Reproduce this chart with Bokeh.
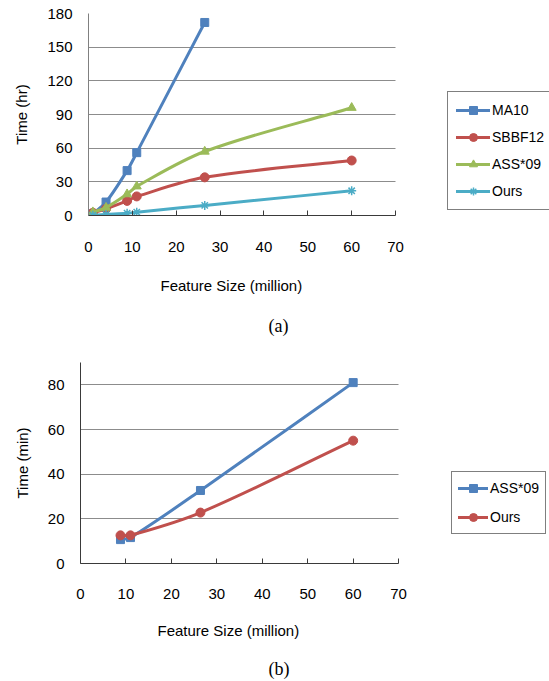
from bokeh.plotting import figure
from bokeh.models import Range1d, FixedTicker, Legend, LegendItem, Title
from bokeh.layouts import column, row
from bokeh.embed import file_html
from bokeh.resources import INLINE

# ---------------- data ----------------
x_ticks = [0, 10, 20, 30, 40, 50, 60, 70]
x_label = "Feature Size (million)"

# chart (a): Time (hr) vs feature size (million)
a_x = [1, 4, 8.8, 11, 26.5, 60]
a_ma10_x = [1, 4, 8.8, 11, 26.5]
a_ma10 = [1.5, 12, 40, 56, 172]
a_sbbf12 = [2.4, 6, 13, 17, 34, 49]
a_ass09 = [3, 7, 19, 26, 57, 96]
a_ours = [0.3, 1, 2, 3, 9, 22]
a_y_ticks = [0, 30, 60, 90, 120, 150, 180]

# chart (b): Time (min) vs feature size (million)
b_x = [8.8, 11, 26.4, 60]
b_ass09 = [10.7, 11.6, 32.7, 81]
b_ours = [12.6, 12.6, 22.8, 55]
b_y_ticks = [0, 20, 40, 60, 80]

BLUE = "#4F81BD"
RED = "#C0504D"
GREEN = "#9BBB59"
CYAN = "#4BACC6"
FONT = "Liberation Sans"


def smooth(xs, ys):
    """Cubic Hermite (Bezier) segments through the data points (Excel-like smoothing)."""
    n = len(xs)
    m = []
    for i in range(n):
        if i == 0:
            m.append((ys[1] - ys[0]) / (xs[1] - xs[0]))
        elif i == n - 1:
            m.append((ys[-1] - ys[-2]) / (xs[-1] - xs[-2]))
        else:
            m.append((ys[i + 1] - ys[i - 1]) / (xs[i + 1] - xs[i - 1]))
    d = dict(x0=[], y0=[], x1=[], y1=[], cx0=[], cy0=[], cx1=[], cy1=[])
    for i in range(n - 1):
        dx = xs[i + 1] - xs[i]
        d["x0"].append(xs[i]); d["y0"].append(ys[i])
        d["x1"].append(xs[i + 1]); d["y1"].append(ys[i + 1])
        d["cx0"].append(xs[i] + dx / 3); d["cy0"].append(ys[i] + m[i] * dx / 3)
        d["cx1"].append(xs[i + 1] - dx / 3); d["cy1"].append(ys[i + 1] - m[i + 1] * dx / 3)
    return d


def series(p, xs, ys, color, marker, size):
    seg = smooth(xs, ys)
    r1 = p.bezier(x0="x0", y0="y0", x1="x1", y1="y1", cx0="cx0", cy0="cy0",
                  cx1="cx1", cy1="cy1", source=seg, line_color=color,
                  line_width=3, line_cap="round")
    if marker == "asterisk":
        r2 = p.scatter(xs, ys, marker=marker, size=size, line_color=color,
                       line_width=1.5)
    else:
        r2 = p.scatter(xs, ys, marker=marker, size=size, fill_color=color,
                       line_color=color)
    return [r1, r2]


def make_fig(height, xmax, ymax, yticks, ylabel, mbl, mbt, mbb, y_axis_color,
             ylab_standoff, tick_standoff):
    p = figure(width=549, height=height, output_backend="svg",
               toolbar_location=None, x_range=Range1d(0, xmax),
               y_range=Range1d(0, ymax),
               min_border_left=mbl, min_border_right=0,
               min_border_top=mbt, min_border_bottom=mbb)
    p.outline_line_color = None
    p.xgrid.grid_line_color = None
    p.ygrid.grid_line_color = "#8C8C8C"
    p.ygrid.grid_line_width = 1
    p.ygrid.ticker = FixedTicker(ticks=yticks[1:])
    p.ygrid.cross_bounds = (x_ticks[0], x_ticks[-1])

    xa = p.xaxis[0]
    xa.bounds = (x_ticks[0], x_ticks[-1])
    xa.ticker = FixedTicker(ticks=x_ticks)
    xa.minor_tick_line_color = None
    xa.major_tick_in = 5
    xa.major_tick_out = 0
    xa.axis_line_color = "#3A3A3A"
    xa.major_tick_line_color = "#3A3A3A"
    xa.major_label_standoff = tick_standoff
    xa.major_label_text_font = FONT
    xa.major_label_text_font_size = "15px"
    xa.major_label_text_color = "#000000"

    ya = p.yaxis[0]
    ya.ticker = FixedTicker(ticks=yticks)
    ya.minor_tick_line_color = None
    ya.major_tick_in = 0
    ya.major_tick_out = 0
    ya.axis_line_color = y_axis_color
    ya.major_label_standoff = 16
    ya.major_label_text_font = FONT
    ya.major_label_text_font_size = "15px"
    ya.major_label_text_color = "#000000"
    ya.axis_label = ylabel
    ya.axis_label_text_font = FONT
    ya.axis_label_text_font_size = "15px"
    ya.axis_label_text_font_style = "normal"
    ya.axis_label_text_color = "#000000"
    ya.axis_label_standoff = ylab_standoff
    return p


def add_legend(p, items, loc, padding, spacing, gw):
    leg = Legend(items=items, location=loc, orientation="vertical",
                 border_line_color="#000000", border_line_width=1,
                 background_fill_color="white", background_fill_alpha=1,
                 padding=padding, spacing=spacing, glyph_width=gw,
                 glyph_height=20, label_height=20, label_standoff=2,
                 label_text_font=FONT, label_text_font_size="14px",
                 label_text_color="#000000", margin=0)
    p.add_layout(leg)


def add_below_texts(p, xlab_offset, xlab_standoff, cap, cap_offset):
    # x-axis title, left aligned so it can sit under the 0..70 part of the axis
    p.add_layout(Title(text=x_label, align="left", offset=xlab_offset,
                       text_font=FONT, text_font_size="15px",
                       text_font_style="normal", text_color="#000000",
                       standoff=xlab_standoff), "below")
    # panel caption
    p.add_layout(Title(text=cap, align="left", offset=cap_offset,
                       text_font="Liberation Serif", text_font_size="18px",
                       text_font_style="normal", text_color="#000000",
                       standoff=0), "below")


# ---------------- figure (a) ----------------
# frame spans 88..549 px; 70 units = 307 px
HA = 344
pa = make_fig(HA, 105.1, 180, a_y_ticks, "Time (hr)", 88, 13, 129, "#808080",
              14, 26)
ra1 = series(pa, a_ma10_x, a_ma10, BLUE, "square", 8)
ra2 = series(pa, a_x, a_sbbf12, RED, "circle", 9)
ra3 = series(pa, a_x, a_ass09, GREEN, "triangle", 9)
ra4 = series(pa, a_x, a_ours, CYAN, "asterisk", 9)
add_legend(pa, [LegendItem(label="MA10", renderers=ra1),
                LegendItem(label="SBBF12", renderers=ra2),
                LegendItem(label="ASS*09", renderers=ra3),
                LegendItem(label="Ours", renderers=ra4)],
           (359, 5), 8, 7, 34)
add_below_texts(pa, 72, 40, "(a)", 180)

# ---------------- figure (b) ----------------
# frame spans 80..549 px; 70 units = 318 px
HB = 681 - HA
pb = make_fig(HB, 103.2, 90, b_y_ticks, "Time (min)", 80, 362 - HA, 118,
              "#3A3A3A", 14, 25)
rb1 = series(pb, b_x, b_ass09, BLUE, "square", 8)
rb2 = series(pb, b_x, b_ours, RED, "circle", 9)
add_legend(pb, [LegendItem(label="ASS*09", renderers=rb1),
                LegendItem(label="Ours", renderers=rb2)],
           (371, 29), 6, 9, 30)
add_below_texts(pb, 77, 36, "(b)", 188)

layout = column(row(pa), row(pb))
open("out.html", "w").write(file_html(layout, INLINE))
